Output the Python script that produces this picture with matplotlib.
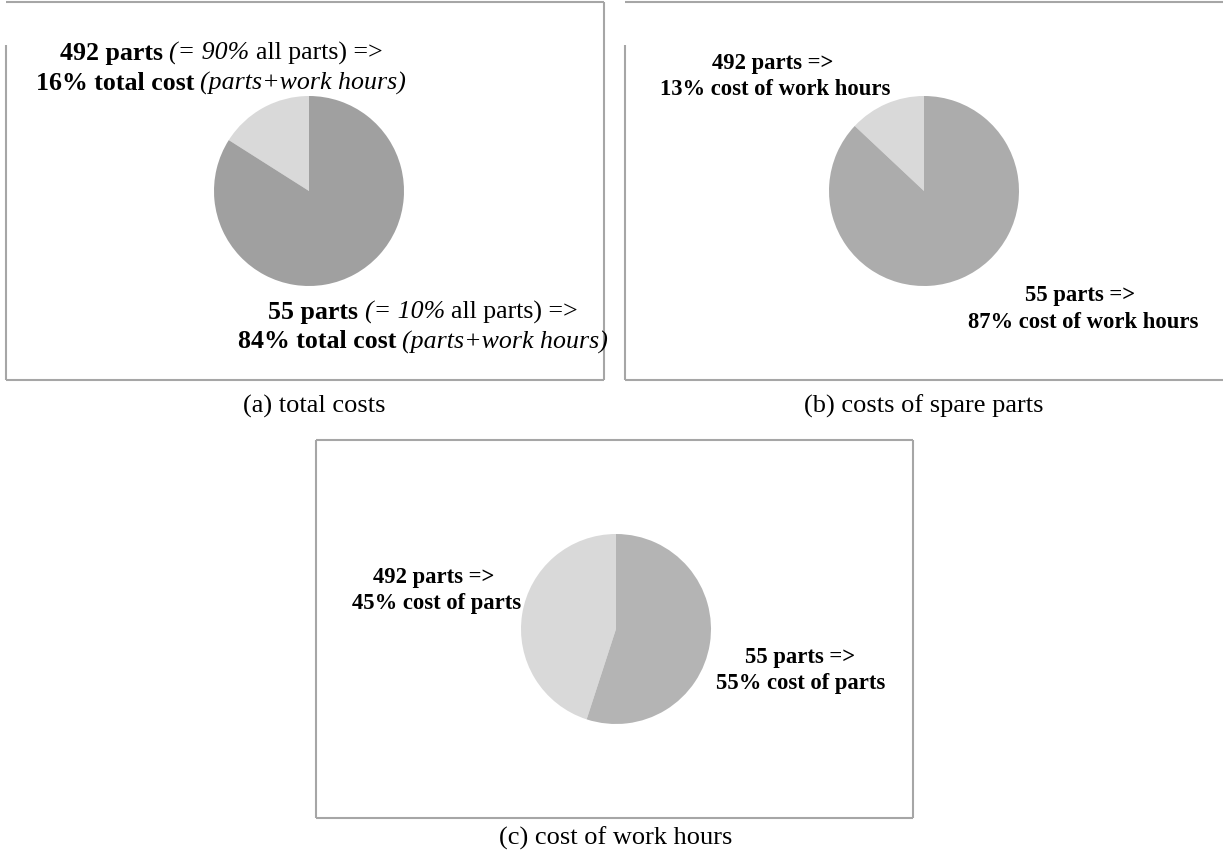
import matplotlib
matplotlib.use('Agg')
import matplotlib.pyplot as plt


W, H = 1223, 856
SERIF = 'Liberation Serif'

groups = ['492 parts', '55 parts']
share_all_parts = ['90%', '10%']
total_cost = [16, 84]
spare_parts_cost = [13, 87]
work_hours_cost = [45, 55]
captions = ['(a) total costs', '(b) costs of spare parts', '(c) cost of work hours']

light = '#d9d9d9'
darks = ['#a0a0a0', '#acacac', '#b4b4b4']

fig = plt.figure(figsize=(W / 100, H / 100), dpi=100)
bg = fig.add_axes([0, 0, 1, 1])
bg.set_xlim(0, W)
bg.set_ylim(H, 0)
bg.axis('off')
renderer = fig.canvas.get_renderer()


def text_width(s, size, weight='normal', style='normal'):
    t = bg.text(0, 0, s, fontsize=size, fontweight=weight, fontstyle=style, family=SERIF)
    w = t.get_window_extent(renderer).width
    t.remove()
    return w


def rich_line(cx, cy, parts, size):
    # parts: list of (text, weight, style); a space goes between parts
    space = text_width('x x', size) - text_width('xx', size)
    widths = [text_width(s, size, wt, st) for s, wt, st in parts]
    total = sum(widths) + space * (len(parts) - 1)
    x = cx - total / 2
    for (s, wt, st), w in zip(parts, widths):
        bg.text(x, cy, s, fontsize=size, fontweight=wt, fontstyle=st, family=SERIF,
                ha='left', va='center', color='black')
        x += w + space


def box(x0, x1, y0, y1, left_from, right=True):
    kw = dict(color='#a6a6a6', lw=1.5, solid_capstyle='butt')
    bg.plot([x0, x1], [y0, y0], **kw)
    bg.plot([x0, x1], [y1, y1], **kw)
    bg.plot([x0, x0], [left_from, y1], **kw)
    if right:
        bg.plot([x1, x1], [y0, y1], **kw)


def pie(cx, cy, r, values, dark):
    ax = fig.add_axes([(cx - r) / W, 1 - (cy + r) / H, 2 * r / W, 2 * r / H])
    ax.pie(values, colors=[light, dark], startangle=90, counterclock=True,
           wedgeprops=dict(linewidth=0))
    ax.set_xlim(-1, 1)
    ax.set_ylim(-1, 1)
    ax.axis('off')


# panel boxes
box(6, 604, 2, 380, 45)
box(625, 1223, 2, 380, 45, right=False)
box(316, 913, 440, 818, 440)

# pies
pie(309, 191, 95, total_cost, darks[0])
pie(924, 191, 95, spare_parts_cost, darks[1])
pie(616, 629, 95, work_hours_cost, darks[2])

# panel (a) labels
fa = 18.6
rich_line(221, 53, [(groups[0], 'bold', 'normal'), ('(= ' + share_all_parts[0], 'normal', 'italic'),
                    ('all parts) =>', 'normal', 'normal')], fa)
rich_line(221, 83, [(f'{total_cost[0]}% total cost', 'bold', 'normal'),
                    ('(parts+work hours)', 'normal', 'italic')], fa)
rich_line(423, 312, [(groups[1], 'bold', 'normal'), ('(= ' + share_all_parts[1], 'normal', 'italic'),
                     ('all parts) =>', 'normal', 'normal')], fa)
rich_line(423, 342, [(f'{total_cost[1]}% total cost', 'bold', 'normal'),
                     ('(parts+work hours)', 'normal', 'italic')], fa)

# panel (b) labels
fb = 16.3
rich_line(773, 63, [(groups[0] + ' =>', 'bold', 'normal')], fb)
rich_line(775, 89, [(f'{spare_parts_cost[0]}% cost of work hours', 'bold', 'normal')], fb)
rich_line(1080, 295, [(groups[1] + ' =>', 'bold', 'normal')], fb)
rich_line(1083, 322, [(f'{spare_parts_cost[1]}% cost of work hours', 'bold', 'normal')], fb)

# panel (c) labels
rich_line(434, 577, [(groups[0] + ' =>', 'bold', 'normal')], fb)
rich_line(437, 603, [(f'{work_hours_cost[0]}% cost of parts', 'bold', 'normal')], fb)
rich_line(800, 657, [(groups[1] + ' =>', 'bold', 'normal')], fb)
rich_line(801, 683, [(f'{work_hours_cost[1]}% cost of parts', 'bold', 'normal')], fb)

# captions
for (cx, cy), cap in zip([(314, 406), (924, 406), (616, 838)], captions):
    bg.text(cx, cy, cap, fontsize=19, family=SERIF, ha='center', va='center')

fig.savefig('out.png', dpi=100)
